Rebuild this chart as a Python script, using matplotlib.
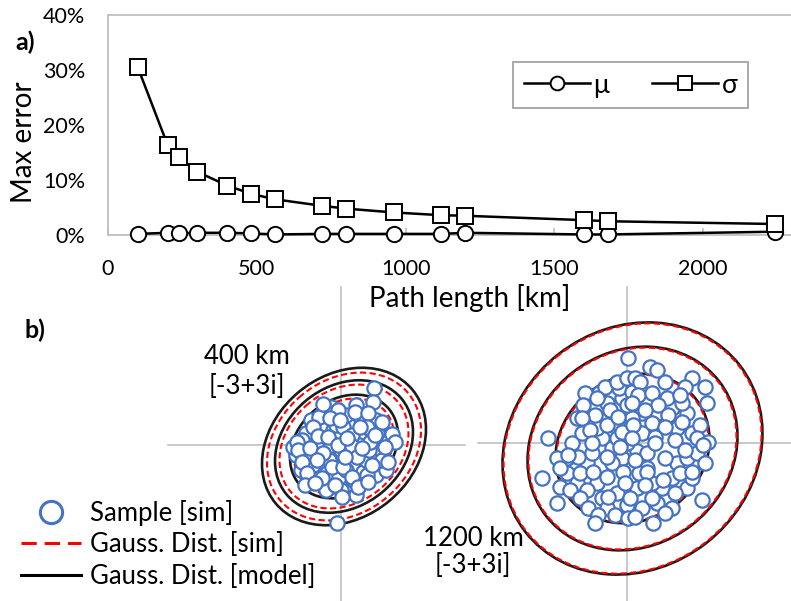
import numpy as np
import matplotlib
matplotlib.use("Agg")
import matplotlib.pyplot as plt
from matplotlib.patches import Ellipse
from matplotlib.lines import Line2D
from matplotlib.ticker import PercentFormatter

plt.rcParams['font.family'] = ['Lato', 'DejaVu Sans']

# ---------------- data: panel a ----------------
path_km = [100, 200, 240, 300, 400, 480, 560, 720, 800, 960, 1120, 1200, 1600, 1680, 2240]
mu_err = [0.002, 0.004, 0.003, 0.004, 0.004, 0.003, 0.001, 0.002, 0.002, 0.002, 0.002, 0.004, 0.001, 0.001, 0.006]
sigma_err = [0.305, 0.164, 0.141, 0.115, 0.090, 0.075, 0.065, 0.053, 0.048, 0.041, 0.036, 0.035, 0.027, 0.025, 0.020]
x_ticks = [0, 500, 1000, 1500, 2000]
y_ticks = [0.0, 0.1, 0.2, 0.3, 0.4]

# ---------------- data: panel b (noise samples around constellation point) ----------------
left_I = [-30, -20, -8, 0, 8, -35, -15, -5, 8, 20, 30, -28, -14, -2, 12, 22, 35, -20, 5, 20,
          38, -45, 0, 15, -15, 45, -10, 25, -30, 5, 35, -5, -25, 15, -10, 0, -40, 40,
          -33, -12, 12, 28, 45, -48, -22, 2, 18, 36,
          33.3, 32.3, -17.7, -2.7, 14, 27.3, -11, -1, 40.7, 25.7, -27.7, 50.7, -22.7, -39.3, -44.3,
          -12.7, 10.7, 29, 54, -2.7, 10.7, -42.7, -31, -17.7, 15.7, 40.7, 47.3, -39.3, -9.3, 2.3,
          25.7, -34.3, -19.3, 10.7, -36, -26, -6, 17.3, 27.3, 0.7, -4.3, 5.7, 19, 34, 44, 20.7,
          -24.3, 30.7, 4]
left_Q = [25, 20, 15, 12, 20, 12, -2, -8, -5, 5, -8, -20, -28, -32, -22, -27, -30, 30, 30, 26,
          18, -10, -45, -50, -45, 5, 0, -15, -8, -25, 25, 20, 0, 40, 38, -5, -25, -5,
          -35, -15, -35, -5, -25, -2, 28, 18, 0, 12,
          56.7, 43.3, 41, 35, 33.3, 32.3, 26.7, 25, 23.3, 18.3, 18.3, 11, 9, 5, 3.3,
          8.3, 10, 3.3, 3.3, 0, -1, -5, -3.3, -8.3, -11.7, -15, -16.7, -16.7, -21.7, -21.7,
          -30, -28.3, -33.3, -31.7, -40, -38.3, -40, -41.7, -36.7, -52.3, -78.3, 6.7, 18.3, 10, -1.7, -3.3,
          -15, -20, -11.7]

right_I = [-25, -15, -5, 10, 15, -10, 45, 60, 50, 60, -55, -60, -30, -10, 10, 30, 45, -45, -30, 40,
           15, -20, -5, 65, 60, -40, -25, 0, 15, 35, -15, 0, 20, -60, -50, -20, 30, 50, 65, -10,
           20, -50, -35, 5, 25, 45, -70, -28, -8, 12, 55, 70,
           1.3, -22, -10.3, -0.3, 4.7, -42, -30.3, -43.7, -32, -17, -45.3, -20.3, -37, -5.3, -79, -8.7,
           -0.3, 23, 29.7, 8, 13, 38, 64.7, 78, 58, 11.3, 24.7, 53, 79.7, 4.7, 31.3, 18, 41.3, 54.7,
           73, 6.3, 24.7, 38, 4.7, 28, 48, 69.7, 81.3, -35.3, -7, -48.7, -20.3, -67, -47, -33.7,
           -20.3, -3.7, -85.3, -67, -57, -40.3, -18.7, -2, -70.3, -47, -38.7, -28.7, -12, -32, 1.3,
           -58.7, 28, 58, 76.3, 8, 38, 78, 19.7, 36.3, 53, 64.7, 18, 48, 3, 24.7, 74.7, 38, 8, 26.3]
right_Q = [5, -5, -15, -8, 10, 20, 35, 30, -20, -45, 0, -30, -40, -50, -45, -60, -65, 10, 15, 45,
           30, 40, 45, 10, -15, -20, -55, -62, -65, -45, -20, 0, -25, -15, -40, -65, 30, 15, -35, 5,
           -10, 25, -10, 25, -40, -35, -15, 50, 55, -30, 40, -10,
           84.7, 56.3, 61.3, 64.7, 51.3, 49.7, 44.7, 38, 28, 33, 24.7, 18, 13, 11.3, 5, 26.3,
           38, 76.3, 73, 64.7, 61.3, 61.3, 64.7, 56.3, 56.3, 48, 49.7, 48, 39.7, 39.7, 38, 33, 28, 21.3,
           18, 18, 19.7, 16.3, 4.7, 6.3, 3, 4.7, 1.3, -0.3, -3.7, -13.7, -13.7, -25.3, -30.3, -28.7,
           -33.7, -28.7, -35.3, -43.7, -47, -47, -53.7, -40.3, -60.3, -55.3, -65.3, -72, -72, -80.3, -75.3,
           -12, -0.3, -7, -2, -17, -15.3, -20.3, -28.7, -37, -30.3, -28.7, -42, -50.3, -55.3, -55.3, -57,
           -70.3, -73.7, -80.3]

# Gaussian contour ellipses: centre, std ratio (Q/I), correlation, contour radii
left_center_model = [3, -1.5]
left_center_sim = [3, -1.5]
left_sig_ratio = 0.96
left_rho = 0.22
left_radii_model = [54, 69, 82]
left_radii_sim = [50, 64.5, 77]

right_center_model = [5.5, -5.5]
right_center_sim = [5.5, -5.5]
right_sig_ratio = 0.97
right_rho = 0.12
right_radii_model = [77, 105, 130]
right_radii_sim = [76, 104, 129]

W, H = 791, 601
BLUE = '#4472C4'
GRAY = '#BFBFBF'

fig = plt.figure(figsize=(W / 100, H / 100), dpi=100)


def fx(px):
    return px / W


def fy(py):
    return 1 - py / H


# ---------------- panel a ----------------
axa = fig.add_axes([fx(108), fy(235), fx(791) - fx(108), fy(15) - fy(235)])
axa.plot(path_km, mu_err, '-o', color='black', lw=1.8, ms=11, mfc='white', mec='black',
         mew=1.4, label='μ', clip_on=False, zorder=3)
axa.plot(path_km, sigma_err, '-s', color='black', lw=1.8, ms=11, mfc='white', mec='black',
         mew=1.4, label='σ', clip_on=False, zorder=4)
axa.set_xlim(0, 2295)
axa.set_ylim(0, 0.40)
axa.set_xticks(x_ticks)
axa.set_yticks(y_ticks)
axa.yaxis.set_major_formatter(PercentFormatter(1.0, decimals=0))
for s in ['left', 'bottom', 'top']:
    axa.spines[s].set_color(GRAY)
    axa.spines[s].set_linewidth(1.3)
axa.spines['right'].set_visible(False)
axa.tick_params(axis='x', direction='in', length=5, color=GRAY, width=1.2, pad=17, labelsize=15.5)
axa.tick_params(axis='y', length=0, pad=16.5, labelsize=15.5)
axa.set_xlabel('Path length [km]', fontsize=20)
axa.xaxis.set_label_coords(0.53, -0.225)
axa.set_ylabel('Max error', fontsize=20)
axa.yaxis.set_label_coords(-0.104, 0.42)
leg = axa.legend(loc='upper left', bbox_to_anchor=(fx(513), fy(62), fx(748) - fx(513), 0.0),
                 bbox_transform=fig.transFigure, mode='expand', borderaxespad=0,
                 ncol=2, fontsize=19, frameon=True, fancybox=False, edgecolor='#8C8C8C',
                 handlelength=2.5, handletextpad=0.15, columnspacing=1.3, borderpad=0.4,
                 markerscale=0.9)
leg.get_frame().set_linewidth(1.3)
fig.text(fx(25), fy(42), 'a)', fontsize=18, fontweight='bold', ha='center', va='center')

# ---------------- panel b ----------------


def cov_ellipse(center, ratio, rho, r, **kw):
    cov = np.array([[1.0, rho * ratio], [rho * ratio, ratio ** 2]])
    vals, vecs = np.linalg.eigh(cov)
    order = vals.argsort()[::-1]
    vals, vecs = vals[order], vecs[:, order]
    angle = np.degrees(np.arctan2(vecs[1, 0], vecs[0, 0]))
    return Ellipse(center, 2 * r * np.sqrt(vals[0]), 2 * r * np.sqrt(vals[1]), angle=angle,
                   fill=False, **kw)


def panel_b(rect, xlim, ylim, I, Q, c_model, c_sim, ratio, rho, r_model, r_sim):
    ax = fig.add_axes(rect)
    ax.set_xlim(*xlim)
    ax.set_ylim(*ylim)
    ax.set_aspect('equal', adjustable='box')
    ax.patch.set_visible(False)
    for s in ['top', 'right']:
        ax.spines[s].set_visible(False)
    for s in ['left', 'bottom']:
        ax.spines[s].set_position('zero')
        ax.spines[s].set_color(GRAY)
        ax.spines[s].set_linewidth(1.2)
        ax.spines[s].set_zorder(0)
    ax.set_xticks([])
    ax.set_yticks([])
    for r in r_model:
        ax.add_patch(cov_ellipse(c_model, ratio, rho, r, edgecolor='#1a1a1a', lw=1.9, zorder=2))
    for r in r_sim:
        ax.add_patch(cov_ellipse(c_sim, ratio, rho, r, edgecolor='#FF0000', lw=1.5,
                                 linestyle=(0, (3, 1.6)), zorder=3))
    ax.plot(I, Q, 'o', ls='', ms=10.3, mfc='white', mec=BLUE, mew=1.6, zorder=4, clip_on=False)
    return ax


panel_b([fx(168), fy(601), fx(465) - fx(168), fy(287) - fy(601)], (-173, 124), (-156, 158),
        left_I, left_Q, left_center_model, left_center_sim, left_sig_ratio, left_rho,
        left_radii_model, left_radii_sim)
panel_b([fx(478), fy(601), fx(791) - fx(478), fy(287) - fy(601)], (-149, 164), (-158, 156),
        right_I, right_Q, right_center_model, right_center_sim, right_sig_ratio, right_rho,
        right_radii_model, right_radii_sim)

fig.text(fx(247), fy(372), '400 km\n[-3+3i]', fontsize=18.5, ha='center', va='center',
         linespacing=1.25)
fig.text(fx(473), fy(552), '1200 km\n[-3+3i]', fontsize=18.5, ha='center', va='center',
         linespacing=1.1)
fig.text(fx(35), fy(330), 'b)', fontsize=18, fontweight='bold', ha='center', va='center')

handles = [Line2D([], [], marker='o', ls='', ms=16, mfc='white', mec=BLUE, mew=2.2),
           Line2D([], [], color='#FF0000', lw=2.2, linestyle=(0, (5, 2.6))),
           Line2D([], [], color='black', lw=2.2)]
labels = ['Sample [sim]', 'Gauss. Dist. [sim]', 'Gauss. Dist. [model]']
fig.legend(handles, labels, loc='upper left', bbox_to_anchor=(fx(3), fy(482)), frameon=False,
           fontsize=18.5, handlelength=2.35, handletextpad=0.35, labelspacing=0.25, borderpad=0.2)

fig.savefig('out.png', dpi=100)
